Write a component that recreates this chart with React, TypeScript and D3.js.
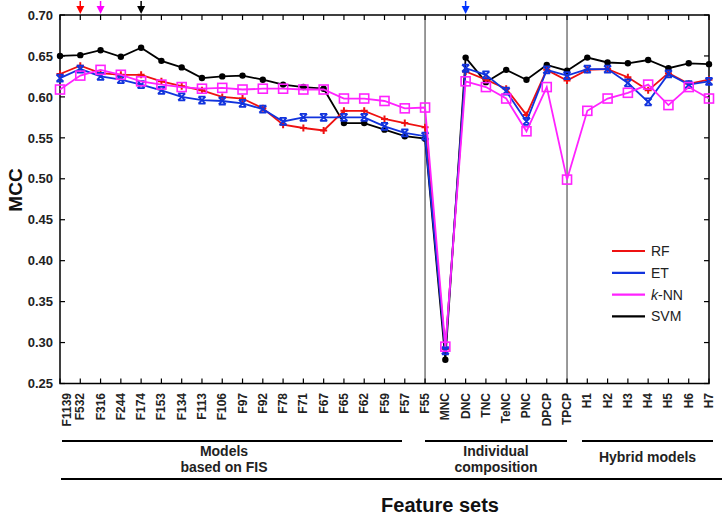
import React from "react";
import * as d3 from "d3";

const categories = [
  "F1139","F532","F316","F244","F174","F153","F134","F113","F106","F97","F92","F78","F71","F67","F65","F62","F59","F57","F55",
  "MNC","DNC","TNC","TeNC","PNC","DPCP","TPCP",
  "H1","H2","H3","H4","H5","H6","H7",
];

const rfValues = [
  0.628,0.638,0.629,0.627,0.627,0.619,0.613,0.608,0.600,0.598,0.586,0.566,0.562,0.559,0.583,0.583,0.573,0.568,0.563,
  0.292,0.631,0.621,0.610,0.578,0.633,0.620,
  0.633,0.634,0.624,0.608,0.629,0.616,0.621,
];
const etValues = [
  0.623,0.634,0.625,0.621,0.615,0.608,0.600,0.596,0.595,0.592,0.585,0.570,0.575,0.575,0.575,0.575,0.564,0.556,0.552,
  0.290,0.635,0.627,0.607,0.570,0.633,0.626,
  0.634,0.634,0.617,0.594,0.628,0.615,0.619,
];
const knnValues = [
  0.609,0.626,0.633,0.627,0.619,0.615,0.612,0.610,0.611,0.609,0.610,0.610,0.609,0.609,0.598,0.598,0.595,0.586,0.587,
  0.295,0.619,0.612,0.598,0.558,0.612,0.499,
  0.583,0.598,0.605,0.615,0.590,0.612,0.598,
];
const svmValues = [
  0.650,0.651,0.657,0.649,0.660,0.644,0.636,0.623,0.625,0.626,0.621,0.615,0.612,0.610,0.568,0.568,0.560,0.552,0.549,
  0.279,0.648,0.618,0.633,0.621,0.639,0.632,
  0.648,0.642,0.641,0.645,0.635,0.641,0.640,
];

const yTicks = [0.25,0.30,0.35,0.40,0.45,0.50,0.55,0.60,0.65,0.70];
const separators = ["F55", "TPCP"];
const arrowMarks = [
  { cat: "F532", color: "#ff0000" },
  { cat: "F316", color: "#ff00ff" },
  { cat: "F174", color: "#000000" },
  { cat: "DNC", color: "#0033ff" },
];
const groups = [
  { lines: ["Models", "based on FIS"], from: "F1139", to: "F57" },
  { lines: ["Individual", "composition"], from: "F55", to: "TPCP" },
  { lines: ["Hybrid models"], from: "H1", to: "H7" },
];

const FONT = "'Liberation Sans', Arial, sans-serif";

export default function App() {
  const W = 722, H = 515;
  const left = 60, right = 709, top = 15, bottom = 383.5;
  const x = d3.scalePoint<string>().domain(categories).range([left, right]).padding(0);
  const y = d3.scaleLinear().domain([0.25, 0.70]).range([bottom, top]);

  const line = d3.line<number>().x((_, i) => x(categories[i])!).y((d) => y(d));

  const series = [
    { name: "SVM", values: svmValues, color: "#000000", marker: "circle" },
    { name: "RF", values: rfValues, color: "#ee1111", marker: "plus" },
    { name: "ET", values: etValues, color: "#1133dd", marker: "x" },
    { name: "k-NN", values: knnValues, color: "#ff22ff", marker: "square" },
  ];

  const legendItems = [
    { label: "RF", color: "#ee1111" },
    { label: "ET", color: "#1133dd" },
    { label: "k-NN", color: "#ff22ff" },
    { label: "SVM", color: "#000000" },
  ];

  const renderMarker = (m: string, cx: number, cy: number, color: string, key: string) => {
    if (m === "circle") return <circle key={key} cx={cx} cy={cy} r={3.2} fill={color} />;
    if (m === "plus")
      return (
        <path key={key} d={`M${cx - 3.5},${cy}H${cx + 3.5}M${cx},${cy - 3.5}V${cy + 3.5}`} stroke={color} strokeWidth={2} />
      );
    if (m === "x")
      return (
        <path key={key} d={`M${cx - 3.5},${cy - 3.5}L${cx + 3.5},${cy + 3.5}M${cx - 3.5},${cy + 3.5}L${cx + 3.5},${cy - 3.5}M${cx - 3.5},${cy - 3.5}H${cx + 3.5}M${cx - 3.5},${cy + 3.5}H${cx + 3.5}`} stroke={color} strokeWidth={1.8} />
      );
    return <rect key={key} x={cx - 4.5} y={cy - 4.5} width={9} height={9} fill="none" stroke={color} strokeWidth={1.6} />;
  };

  const labelDx: Record<string, number> = { F1139: 7 };

  return (
    <svg width={W} height={H} style={{ position: "absolute", left: 0, top: 0, background: "#fff" }} fontFamily={FONT}>
      <rect x={0} y={0} width={W} height={H} fill="#fff" />
      {/* separators */}
      {separators.map((c) => (
        <line key={c} x1={x(c)} x2={x(c)} y1={top} y2={bottom} stroke="#808080" strokeWidth={1.6} />
      ))}
      {/* frame */}
      <rect x={left} y={top} width={right - left} height={bottom - top} fill="none" stroke="#000" strokeWidth={1.5} />
      {/* y ticks */}
      {yTicks.map((t) => (
        <g key={t}>
          <line x1={left} x2={left + 5} y1={y(t)} y2={y(t)} stroke="#000" strokeWidth={1.2} />
          <line x1={right - 5} x2={right} y1={y(t)} y2={y(t)} stroke="#000" strokeWidth={1.2} />
          <text x={53} y={y(t)} dy="0.36em" textAnchor="end" fontSize={13} fontWeight="bold" fill="#222">
            {t.toFixed(2)}
          </text>
        </g>
      ))}
      {/* x ticks */}
      {categories.map((c) => (
        <g key={c}>
          <line x1={x(c)} x2={x(c)} y1={top} y2={top + 5} stroke="#000" strokeWidth={1.2} />
          <line x1={x(c)} x2={x(c)} y1={bottom} y2={bottom - 5} stroke="#000" strokeWidth={1.2} />
          <text
            transform={`translate(${x(c)! + 4 + (labelDx[c] || 0)},393) rotate(-90)`}
            textAnchor="end"
            fontSize={12}
            fontWeight="bold"
            fill="#222"
          >
            {c}
          </text>
        </g>
      ))}
      {/* series */}
      {series.map((s) => (
        <g key={s.name}>
          <path d={line(s.values)!} fill="none" stroke={s.color} strokeWidth={1.8} />
          {s.values.map((v, i) => renderMarker(s.marker, x(categories[i])!, y(v), s.color, s.name + i))}
        </g>
      ))}
      {/* arrows */}
      {arrowMarks.map((a) => {
        const cx = x(a.cat)!;
        return (
          <g key={a.cat}>
            <line x1={cx} x2={cx} y1={1} y2={8} stroke={a.color} strokeWidth={1.5} />
            <path d={`M${cx - 4},${6}L${cx + 4},${6}L${cx},${14}Z`} fill={a.color} />
          </g>
        );
      })}
      {/* legend */}
      {legendItems.map((l, i) => {
        const ly = 251 + i * 21.8;
        return (
          <g key={l.label}>
            <line x1={612} x2={645} y1={ly} y2={ly} stroke={l.color} strokeWidth={2.2} />
            <text x={651} y={ly} dy="0.36em" fontSize={14} fill="#222">
              {l.label === "k-NN" ? (
                <>
                  <tspan fontStyle="italic">k</tspan>-NN
                </>
              ) : (
                l.label
              )}
            </text>
          </g>
        );
      })}
      {/* y title */}
      <text transform={`translate(22,190) rotate(-90)`} textAnchor="middle" fontSize={19} fontWeight="bold" fill="#111">
        MCC
      </text>
      {/* groups */}
      {groups.map((g, gi) => {
        const x1 = gi === 0 ? 62 : gi === 1 ? 425 : 582;
        const x2 = gi === 0 ? 402 : gi === 1 ? 567 : 713;
        const cx = (x1 + x2) / 2 + (gi === 0 ? -8 : 0);
        return (
          <g key={gi}>
            <line x1={x1} x2={x2} y1={441} y2={441} stroke="#000" strokeWidth={2} />
            {g.lines.map((t, li) => (
              <text
                key={t}
                x={cx}
                y={g.lines.length === 1 ? 462 : 456 + li * 16}
                textAnchor="middle"
                fontSize={14}
                fontWeight="bold"
                fill="#222"
              >
                {t}
              </text>
            ))}
          </g>
        );
      })}
      <line x1={61} x2={722} y1={479} y2={479} stroke="#000" strokeWidth={2} />
      <text x={440} y={512} textAnchor="middle" fontSize={20} fontWeight="bold" fill="#111">
        Feature sets
      </text>
    </svg>
  );
}
